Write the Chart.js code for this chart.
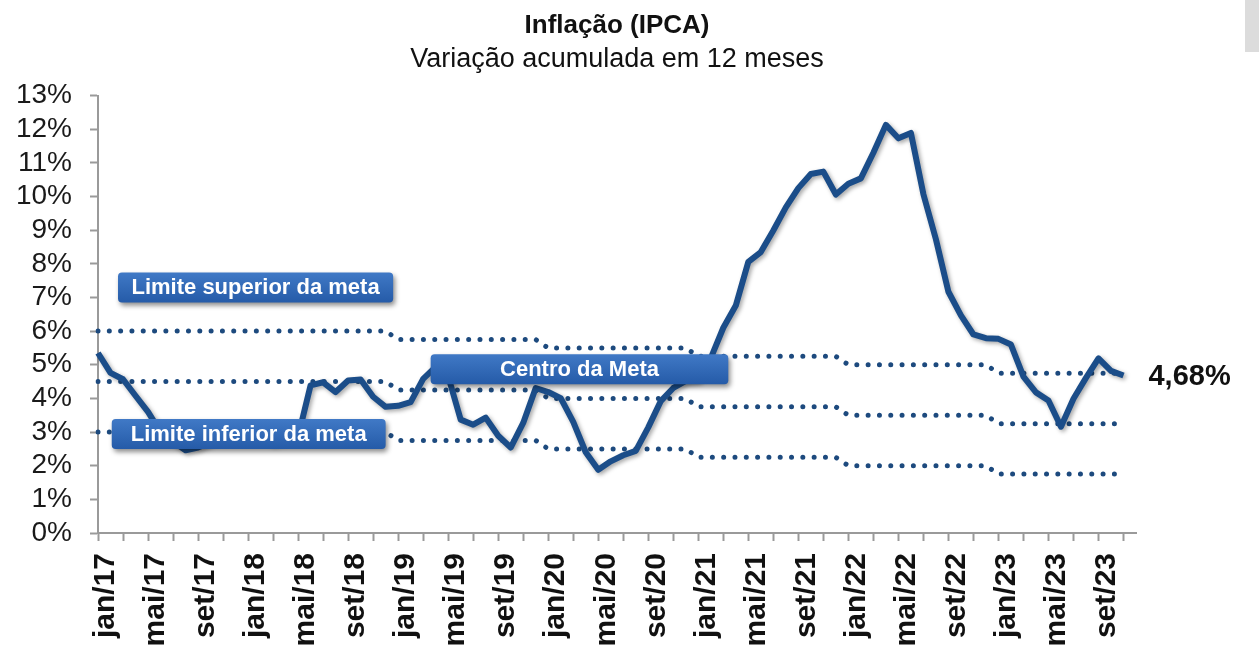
<!DOCTYPE html>
<html lang="pt-BR">
<head>
<meta charset="utf-8">
<title>Inflação (IPCA)</title>
<script src="https://cdn.jsdelivr.net/npm/chart.js@4.4.1/dist/chart.umd.min.js"></script>
<style>
  html, body { margin: 0; padding: 0; background: #fff; }
  #wrap { position: relative; width: 1259px; height: 651px; }
  #ipcaChart { display: block; }
  #faixa { position: absolute; right: 0; top: 0; width: 14px; height: 52px; background: #dcdcdc; }
</style>
</head>
<body>
<div id="wrap">
  <canvas id="ipcaChart" width="1259" height="651"></canvas>
  <div id="faixa"></div>
</div>
<script>
// ===== DADOS =====
const meses = ["jan", "fev", "mar", "abr", "mai", "jun", "jul", "ago", "set", "out", "nov", "dez"];
const anos = ["17", "18", "19", "20", "21", "22", "23"];

// IPCA acumulado em 12 meses (%)
const ipca17 = [5.35, 4.76, 4.57, 4.08, 3.60, 3.00, 2.71, 2.46, 2.54, 2.70, 2.80, 2.95];
const ipca18 = [2.86, 2.84, 2.68, 2.76, 2.86, 4.39, 4.48, 4.19, 4.53, 4.56, 4.05, 3.75];
const ipca19 = [3.78, 3.89, 4.58, 4.94, 4.66, 3.37, 3.22, 3.43, 2.89, 2.54, 3.27, 4.31];
const ipca20 = [4.19, 4.01, 3.30, 2.40, 1.88, 2.13, 2.31, 2.44, 3.14, 3.92, 4.31, 4.52];
const ipca21 = [4.56, 5.20, 6.10, 6.76, 8.06, 8.35, 8.99, 9.68, 10.25, 10.67, 10.74, 10.06];
const ipca22 = [10.38, 10.54, 11.30, 12.13, 11.73, 11.89, 10.07, 8.73, 7.17, 6.47, 5.90, 5.79];
const ipca23 = [5.77, 5.60, 4.65, 4.18, 3.94, 3.16, 3.99, 4.61, 5.19, 4.82, 4.68];

// metas por ano (2017 a 2023)
const metaSuperior = [6.00, 6.00, 5.75, 5.50, 5.25, 5.00, 4.75];
const metaCentro = [4.50, 4.50, 4.25, 4.00, 3.75, 3.50, 3.25];
const metaInferior = [3.00, 3.00, 2.75, 2.50, 2.25, 2.00, 1.75];

const valoresY = [0, 13];

// ===== MONTAGEM =====
const categorias = [];
anos.forEach(a => meses.forEach(m => categorias.push(m + "/" + a)));

const ipca = [].concat(ipca17, ipca18, ipca19, ipca20, ipca21, ipca22, ipca23);

// repete o valor anual da meta em cada mês com dado
const porMes = (anual) => categorias.map((c, i) => i < ipca.length ? anual[Math.floor(i / 12)] : null);

const AZUL = "#1b4d89";
const PONTOS = "#1d4a7e";
const CINZA = "#9a9a9a";

// caixas de texto (posição em índice do mês / valor do eixo)
const caixas = [
  { texto: "Limite superior da meta", de: 1.6, ate: 23.6, nivel: 7.3 },
  { texto: "Centro da Meta", de: 26.6, ate: 50.4, nivel: 4.87 },
  { texto: "Limite inferior da meta", de: 1.1, ate: 23.0, nivel: 2.94 }
];

Chart.defaults.font.family = "'Liberation Sans', Arial, sans-serif";
Chart.defaults.color = "#1a1a1a";

// ===== PLUGINS =====
const sombraLinha = {
  id: "sombraLinha",
  beforeDatasetDraw(chart, args) {
    if (args.index !== 0) return;
    const ctx = chart.ctx;
    ctx.save();
    ctx.shadowColor = "rgba(0,0,0,0.35)";
    ctx.shadowBlur = 4;
    ctx.shadowOffsetX = 2;
    ctx.shadowOffsetY = 2;
  },
  afterDatasetDraw(chart, args) {
    if (args.index !== 0) return;
    chart.ctx.restore();
  }
};

const rotulos = {
  id: "rotulos",
  afterDatasetsDraw(chart) {
    const ctx = chart.ctx;
    const x = chart.scales.x;
    const y = chart.scales.y;

    // caixas azuis
    caixas.forEach(c => {
      const x0 = x.getPixelForValue(c.de);
      const x1 = x.getPixelForValue(c.ate);
      const yc = y.getPixelForValue(c.nivel);
      const h = 30;
      ctx.save();
      ctx.shadowColor = "rgba(0,0,0,0.45)";
      ctx.shadowBlur = 5;
      ctx.shadowOffsetX = 2;
      ctx.shadowOffsetY = 3;
      const grad = ctx.createLinearGradient(0, yc - h / 2, 0, yc + h / 2);
      grad.addColorStop(0, "#4079c6");
      grad.addColorStop(1, "#255ba8");
      ctx.fillStyle = grad;
      ctx.beginPath();
      ctx.roundRect(x0, yc - h / 2, x1 - x0, h, 4);
      ctx.fill();
      ctx.restore();

      ctx.save();
      ctx.fillStyle = "#ffffff";
      ctx.font = "bold 22px 'Liberation Sans', Arial, sans-serif";
      ctx.textAlign = "center";
      ctx.textBaseline = "middle";
      ctx.fillText(c.texto, (x0 + x1) / 2, yc + 1);
      ctx.restore();
    });

    // último valor
    const meta = chart.getDatasetMeta(0);
    const ult = meta.data[ipca.length - 1];
    const valor = ipca[ipca.length - 1];
    ctx.save();
    ctx.fillStyle = "#111";
    ctx.font = "bold 29px 'Liberation Sans', Arial, sans-serif";
    ctx.textAlign = "left";
    ctx.textBaseline = "middle";
    ctx.fillText(valor.toFixed(2).replace(".", ",") + "%", ult.x + 25, ult.y + 1);
    ctx.restore();
  }
};

const linhaMeta = (dados) => ({
  data: porMes(dados),
  borderColor: PONTOS,
  borderWidth: 5,
  borderDash: [0.01, 11.3],
  borderCapStyle: "round",
  pointRadius: 0,
  tension: 0,
  fill: false
});

// ===== GRÁFICO =====
new Chart(document.getElementById("ipcaChart"), {
  type: "line",
  data: {
    labels: categorias,
    datasets: [
      {
        data: ipca,
        borderColor: AZUL,
        borderWidth: 6,
        borderJoinStyle: "round",
        pointRadius: 0,
        tension: 0,
        fill: false
      },
      linhaMeta(metaSuperior),
      linhaMeta(metaCentro),
      linhaMeta(metaInferior)
    ]
  },
  options: {
    responsive: false,
    animation: false,
    layout: { padding: { left: 0, right: 123, top: 0, bottom: 0 } },
    plugins: {
      legend: { display: false },
      tooltip: { enabled: false },
      title: {
        display: true,
        text: "Inflação (IPCA)",
        fullSize: false,
        color: "#111",
        font: { size: 26, weight: "bold" },
        padding: { top: 10, bottom: 0 }
      },
      subtitle: {
        display: true,
        text: "Variação acumulada em 12 meses",
        fullSize: false,
        color: "#111",
        font: { size: 27 },
        padding: { top: 2, bottom: 20 }
      }
    },
    scales: {
      x: {
        offset: false,
        border: { display: true, color: CINZA, width: 2 },
        grid: {
          drawOnChartArea: false,
          drawTicks: true,
          tickLength: 8,
          tickWidth: 2,
          tickColor: (ctx) => ctx.index % 2 === 0 ? CINZA : "rgba(0,0,0,0)"
        },
        ticks: {
          autoSkip: false,
          minRotation: 90,
          maxRotation: 90,
          padding: 12,
          labelOffset: 8,
          color: "#111",
          font: { size: 30, weight: "bold" },
          callback: (val, i) => i % 4 === 0 ? categorias[i] : ""
        },
        afterFit: (scale) => { scale.height = 118; }
      },
      y: {
        min: valoresY[0],
        max: valoresY[1],
        border: { display: true, color: CINZA, width: 2 },
        grid: {
          drawOnChartArea: false,
          drawTicks: true,
          tickLength: 8,
          tickWidth: 2,
          tickColor: CINZA
        },
        ticks: {
          autoSkip: false,
          stepSize: 1,
          padding: 18,
          color: "#1a1a1a",
          font: { size: 28 },
          callback: (v) => v + "%"
        },
        afterFit: (scale) => { scale.width = 98; }
      }
    }
  },
  plugins: [sombraLinha, rotulos]
});
</script>
</body>
</html>
